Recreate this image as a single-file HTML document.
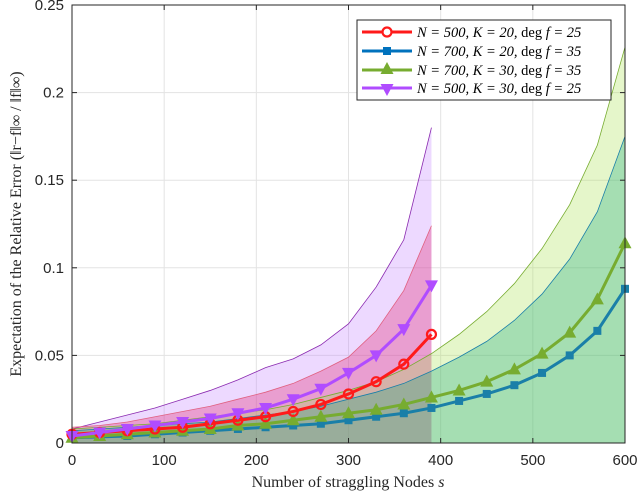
<!DOCTYPE html>
<html><head><meta charset="utf-8"><style>
body{margin:0;background:#fff;}
svg{display:block;font-family:"Liberation Sans",sans-serif;}
.tk{font-size:15px;fill:#262626;}
.lab{font-family:"Liberation Serif",serif;font-size:16px;fill:#262626;}
.leg{font-family:"Liberation Serif",serif;font-size:14.5px;font-style:italic;fill:#000;}
</style></head><body>
<svg id="chart" width="640" height="493"></svg>
<script>
const xs14=[0,30,60,90,120,150,180,210,240,270,300,330,360,390];
const xs21=[0,30,60,90,120,150,180,210,240,270,300,330,360,390,420,450,480,510,540,570,600];
const redMean=[0.005,0.006,0.007,0.008,0.009,0.011,0.013,0.015,0.018,0.022,0.028,0.035,0.045,0.062];
const purpleMean=[0.004,0.006,0.008,0.010,0.012,0.014,0.017,0.020,0.025,0.031,0.040,0.050,0.065,0.090];
const greenMean=[0.003,0.004,0.005,0.006,0.007,0.008,0.010,0.011,0.013,0.015,0.017,0.019,0.022,0.026,0.030,0.035,0.042,0.051,0.063,0.082,0.114];
const blueMean=[0.003,0.0035,0.004,0.005,0.006,0.007,0.008,0.009,0.010,0.011,0.013,0.015,0.017,0.020,0.024,0.028,0.033,0.040,0.050,0.064,0.088];
const redUpper=[0.009,0.010,0.012,0.015,0.018,0.021,0.025,0.029,0.034,0.041,0.049,0.064,0.087,0.124];
const purpleUpper=[0.008,0.012,0.016,0.020,0.025,0.030,0.036,0.043,0.048,0.056,0.068,0.089,0.116,0.180];
const greenUpper=[0.008,0.009,0.010,0.011,0.013,0.015,0.017,0.019,0.022,0.026,0.030,0.035,0.042,0.051,0.062,0.075,0.091,0.111,0.136,0.170,0.226];
const blueUpper=[0.007,0.008,0.009,0.010,0.011,0.012,0.014,0.016,0.018,0.021,0.025,0.029,0.034,0.041,0.049,0.058,0.070,0.085,0.105,0.132,0.175];
const xTicks=[0,100,200,300,400,500,600];
const yTicks=[0,0.05,0.1,0.15,0.2,0.25];
const yTickLabels=["0","0.05","0.1","0.15","0.2","0.25"];

const L=72,R=625,T=5,B=443;
const X=v=>L+(v/600)*(R-L);
const Y=v=>B-(v/0.25)*(B-T);
const svg=document.getElementById('chart');
const NS='http://www.w3.org/2000/svg';
function mk(tag,attrs,parent){const e=document.createElementNS(NS,tag);for(const k in attrs)e.setAttribute(k,attrs[k]);(parent||svg).appendChild(e);return e;}

yTicks.forEach(v=>{const g=mk('line',{x1:L,x2:R,y1:Y(v),y2:Y(v),stroke:'#e3e3e3','stroke-width':1});

});
xTicks.forEach(v=>{const g=mk('line',{x1:X(v),x2:X(v),y1:T,y2:B,stroke:'#e3e3e3','stroke-width':1});

});

const series=[
 {name:'purple',xs:xs14,mean:purpleMean,up:purpleUpper,col:'#b04cff',fill:'rgba(190,120,255,0.28)',edge:'#8a2ab0',m:'tri-down'},
 {name:'red',xs:xs14,mean:redMean,up:redUpper,col:'#ff1a1a',fill:'rgba(225,50,120,0.35)',edge:'#e06080',m:'circle'},
 {name:'green',xs:xs21,mean:greenMean,up:greenUpper,col:'#77ac30',fill:'rgba(170,225,80,0.3)',edge:'#77ac30',m:'tri-up'},
 {name:'blue',xs:xs21,mean:blueMean,up:blueUpper,col:'#1a7fa8',fill:'rgba(0,160,120,0.28)',edge:'#1a7fa8',m:'square'}
];
series.forEach(s=>{
 let d='M'+X(s.xs[0])+','+Y(0);
 s.xs.forEach((x,i)=>{d+=' L'+X(x)+','+Y(s.up[i]);});
 d+=' L'+X(s.xs[s.xs.length-1])+','+Y(0)+' Z';
 const p=mk('path',{d:d,fill:s.fill,stroke:'none'});
 
 
 const e=mk('polyline',{points:s.xs.map((x,i)=>X(x)+','+Y(s.up[i])).join(' '),fill:'none',stroke:s.edge,'stroke-width':0.8});
 
 
});
function marker(type,cx,cy,col,g){
 if(type==='circle')return mk('circle',{cx:cx,cy:cy,r:4.5,fill:'none',stroke:col,'stroke-width':2.2},g);
 if(type==='square')return mk('rect',{x:cx-4,y:cy-4,width:8,height:8,fill:col},g);
 if(type==='tri-up')return mk('polygon',{points:`${cx},${cy-7} ${cx-6.5},${cy+5} ${cx+6.5},${cy+5}`,fill:col},g);
 return mk('polygon',{points:`${cx},${cy+7} ${cx-6.5},${cy-5} ${cx+6.5},${cy-5}`,fill:col},g);
}
[series[3],series[2],series[1],series[0]].forEach(s=>{
 const g=mk('g',{});
 
 
 mk('polyline',{points:s.xs.map((x,i)=>X(x)+','+Y(s.mean[i])).join(' '),fill:'none',stroke:s.col,'stroke-width':3},g);
 s.xs.forEach((x,i)=>{const m=marker(s.m,X(x),Y(s.mean[i]),s.col,g);
 
 });
});
const bx=mk('rect',{x:L,y:T,width:R-L,height:B-T,fill:'none',stroke:'#262626','stroke-width':1});


xTicks.forEach(v=>{mk('line',{x1:X(v),x2:X(v),y1:B,y2:B-5,stroke:'#262626'});mk('line',{x1:X(v),x2:X(v),y1:T,y2:T+5,stroke:'#262626'});
 const t=mk('text',{x:X(v),y:B+22,'text-anchor':'middle',class:'tk'});t.textContent=v;
 
 });
yTicks.forEach((v,i)=>{mk('line',{x1:L,x2:L+5,y1:Y(v),y2:Y(v),stroke:'#262626'});mk('line',{x1:R,x2:R-5,y1:Y(v),y2:Y(v),stroke:'#262626'});
 const t=mk('text',{x:L-8,y:Y(v)+5,'text-anchor':'end',class:'tk'});t.textContent=yTickLabels[i];
 
 });
</script>
<div style="position:absolute;left:0;top:0;width:640px;height:493px;pointer-events:none">
<svg width="640" height="493" style="position:absolute;left:0;top:0">
<text class="lab" x="348" y="487" text-anchor="middle">Number of straggling Nodes <tspan font-style="italic">s</tspan></text>
<text class="lab" transform="translate(21,224) rotate(-90)" text-anchor="middle">Expectation of the Relative Error (‖r−f‖∞ / ‖f‖∞)</text>
<g>
<rect x="357" y="20" width="254" height="80" fill="#fff" stroke="#262626" stroke-width="1"/>
<g><line x1="362" x2="412" y1="32" y2="32" stroke="#ff1a1a" stroke-width="3"/><circle cx="387" cy="32" r="4.5" fill="#fff" stroke="#ff1a1a" stroke-width="2.2"/><text class="leg" x="417" y="37">N = 500, K = 20, <tspan font-style="normal">deg</tspan> f = 25</text></g>
<g><line x1="362" x2="412" y1="51" y2="51" stroke="#0072bd" stroke-width="3"/><rect x="383" y="47" width="8" height="8" fill="#0072bd"/><text class="leg" x="417" y="56">N = 700, K = 20, <tspan font-style="normal">deg</tspan> f = 35</text></g>
<g><line x1="362" x2="412" y1="70" y2="70" stroke="#77ac30" stroke-width="3"/><polygon points="387,62 380.5,74 393.5,74" fill="#77ac30"/><text class="leg" x="417" y="75">N = 700, K = 30, <tspan font-style="normal">deg</tspan> f = 35</text></g>
<g><line x1="362" x2="412" y1="88" y2="88" stroke="#b04cff" stroke-width="3"/><polygon points="387,96 380.5,84 393.5,84" fill="#b04cff"/><text class="leg" x="417" y="93">N = 500, K = 30, <tspan font-style="normal">deg</tspan> f = 25</text></g>
</g>
</svg></div>
</body></html>
